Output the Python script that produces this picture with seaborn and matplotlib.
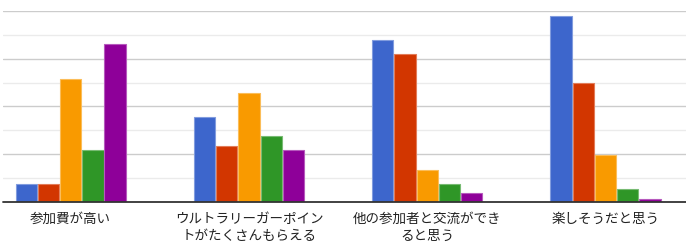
import matplotlib
matplotlib.use("Agg")
import matplotlib.pyplot as plt
import seaborn as sns
import pandas as pd
from matplotlib.colors import to_rgb

categories = ["参加費が高い", "ウルトラリーガーポイン\nトがたくさんもらえる",
              "他の参加者と交流ができ\nると思う", "楽しそうだと思う"]
series = ["系列1", "系列2", "系列3", "系列4", "系列5"]
vals_1 = [0.75, 3.55, 6.77, 7.79]
vals_2 = [0.75, 2.36, 6.19, 4.98]
vals_3 = [5.16, 4.57, 1.34, 1.96]
vals_4 = [2.17, 2.76, 0.75, 0.56]
vals_5 = [6.60, 2.17, 0.38, 0.14]
colors = ["#3d66cc", "#d23600", "#f99a00", "#2f9627", "#8e0099"]

all_vals = [vals_1, vals_2, vals_3, vals_4, vals_5]
rows = []
for s, vs in zip(series, all_vals):
    for c, v in zip(categories, vs):
        rows.append({"cat": c, "series": s, "val": v})
df = pd.DataFrame(rows)

sns.set_theme(style="white")
plt.rcParams['font.family'] = ['Noto Sans CJK JP', 'DejaVu Sans']

fig = plt.figure(figsize=(6.86, 2.49), dpi=100)
W, H = 686, 249
ax = fig.add_axes([3 / W, (H - 202) / H, 683 / W, 191 / H])

sns.barplot(data=df, x="cat", y="val", hue="series", order=categories,
            hue_order=series, palette=colors, width=0.623, gap=0.04,
            legend=False, ax=ax, errorbar=None, saturation=1, zorder=3)

# lighter outline on bars
for i, cont in enumerate(ax.containers):
    r, g, b = to_rgb(colors[i])
    light = (r + (1 - r) * 0.35, g + (1 - g) * 0.35, b + (1 - b) * 0.35)
    for patch in cont:
        patch.set_edgecolor(light)
        patch.set_linewidth(0.8)

ax.set_ylim(0, 8)
ax.set_xlim(-0.380, 3.452)
for y in range(1, 9):
    ax.axhline(y, color="#cccccc" if y % 2 == 0 else "#ebebeb", lw=1.0, zorder=1)
ax.axhline(0, color="#333333", lw=1.3, zorder=5, clip_on=False)

for sp in ax.spines.values():
    sp.set_visible(False)
ax.set_yticks([])
ax.set_xlabel("")
ax.set_ylabel("")
ax.tick_params(axis="x", length=0, pad=7, labelsize=9.75, labelcolor="#222222")
for lab in ax.get_xticklabels():
    lab.set_linespacing(1.3)

fig.savefig("out.png", dpi=100)
